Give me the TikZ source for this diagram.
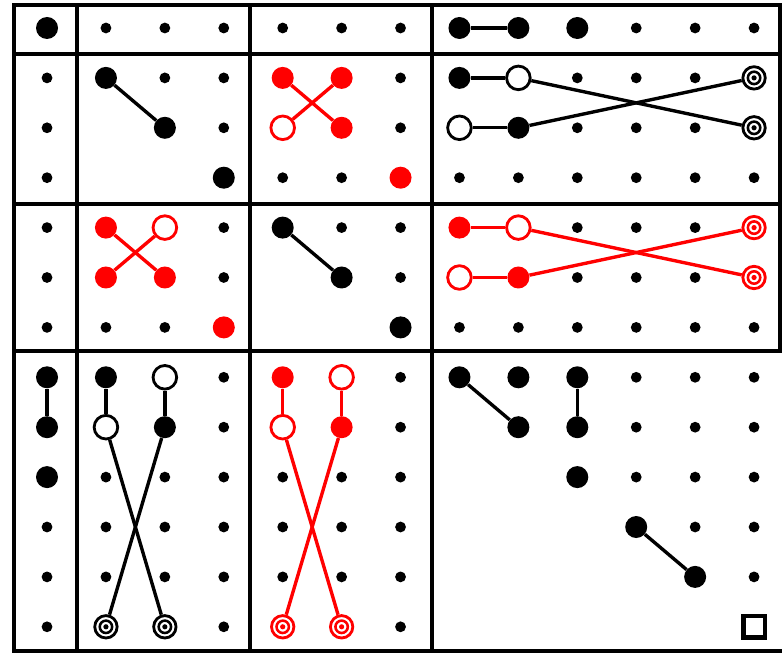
\documentclass[tikz,border=0pt]{standalone}
\usepackage{tikz}

\begin{document}
\begin{tikzpicture}[x=1.473cm,y=1.2475cm,
  gridline/.style={line width=2.6pt,line cap=rect},
  dot/.style={circle,fill,inner sep=0pt,minimum size=0.27cm},
  big/.style={circle,fill=#1,inner sep=0pt,minimum size=0.55cm},
  big/.default=black,
  hole/.style={circle,draw=#1,fill=white,line width=2pt,inner sep=0pt,minimum size=0.59cm},
  hole/.default=black,
  bull/.style={circle,draw=#1,fill=white,line width=2pt,inner sep=0pt,minimum size=0.56cm,
    path picture={\draw[#1,line width=1.8pt] (path picture bounding box.center) circle (0.155cm);
      \fill[#1] (path picture bounding box.center) circle (0.065cm);}},
  bull/.default=black,
  link/.style={line width=2.4pt,draw=#1},
  link/.default=black]
  \useasboundingbox (-0.798,0.561) rectangle (12.474,-12.525);

  % frame of the board
  \foreach \yy in {0.461,-0.521,-3.527,-6.473,-12.485}
    \draw[gridline] (-0.560,\yy) -- (12.441,\yy);
  \foreach \xx in {-0.560,0.509,3.445,6.534}
    \draw[gridline] (\xx,0.461) -- (\xx,-12.485);
  \draw[gridline] (12.441,0.461) -- (12.441,-6.473);

  % empty points
  \foreach \r/\cs in {0/{1,2,3,4,5,6,10,11,12},1/{0,2,3,6,9,10,11},2/{0,3,6,9,10,11},
                      3/{0,4,5,7,8,9,10,11,12},4/{0,3,5,6,9,10,11},5/{0,3,6,9,10,11},
                      6/{0,1,2,7,8,9,10,11,12},7/{3,6,10,11,12},8/{3,6,10,11,12},
                      9/{1,2,3,4,5,6,10,11,12},10/{0,1,2,3,4,5,6,11,12},
                      11/{0,1,2,3,4,5,6,12},12/{0,3,6}}
  {
    \foreach \c in \cs
      \node[dot] (p\r-\c) at (\c,-\r) {};
  }

  % stones
  \foreach \r/\c in {0/0,0/7,0/8,0/9,1/1,2/2,3/3,1/7,2/8,4/4,5/5,6/6,7/0,8/0,9/0,
                     7/1,8/2,7/7,8/8,7/8,7/9,8/9,9/9,10/10,11/11}
    \node[big] (p\r-\c) at (\c,-\r) {};
  \foreach \r/\c in {1/4,1/5,2/5,3/6,4/1,5/1,5/2,6/3,4/7,5/8,7/4,8/5}
    \node[big=red] (p\r-\c) at (\c,-\r) {};
  \foreach \r/\c in {1/8,2/7,7/2,8/1}
    \node[hole] (p\r-\c) at (\c,-\r) {};
  \foreach \r/\c in {2/4,4/2,4/8,5/7,7/5,8/4}
    \node[hole=red] (p\r-\c) at (\c,-\r) {};
  \foreach \r/\c in {1/12,2/12,12/1,12/2}
    \node[bull] (p\r-\c) at (\c,-\r) {};
  \foreach \r/\c in {4/12,5/12,12/4,12/5}
    \node[bull=red] (p\r-\c) at (\c,-\r) {};
  \node[draw,line width=3.3pt,inner sep=0pt,minimum size=0.54cm] (p12-12) at (12,-12) {};

  % links
  \foreach \a/\b in {0-7/0-8,1-1/2-2,1-7/1-8,2-7/2-8,1-8/2-12,2-8/1-12,4-4/5-5,
                     7-0/8-0,7-1/8-1,7-2/8-2,8-1/12-2,8-2/12-1,7-7/8-8,7-9/8-9,10-10/11-11}
    \draw[link] (p\a) -- (p\b);
  \foreach \a/\b in {1-4/2-5,1-5/2-4,4-1/5-2,4-2/5-1,4-7/4-8,5-7/5-8,4-8/5-12,5-8/4-12,
                     7-4/8-4,7-5/8-5,8-4/12-5,8-5/12-4}
    \draw[link=red] (p\a) -- (p\b);
\end{tikzpicture}
\end{document}
